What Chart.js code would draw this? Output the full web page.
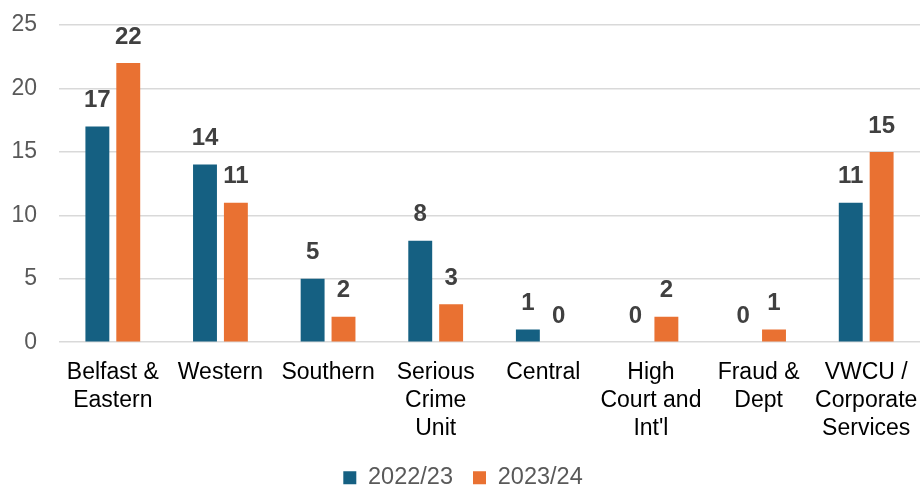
<!DOCTYPE html>
<html>
<head>
<meta charset="utf-8">
<script src="https://cdn.jsdelivr.net/npm/chart.js@4/dist/chart.umd.min.js"></script>
<style>
  html, body { margin: 0; padding: 0; background: #fff; }
  #wrap { width: 920px; height: 485px; }
</style>
</head>
<body>
<div id="wrap"><canvas id="chart"></canvas></div>
<script>
// categorias y valores
const categories = [
  ['Belfast &', 'Eastern'],
  'Western',
  'Southern',
  ['Serious', 'Crime', 'Unit'],
  'Central',
  ['High', 'Court and', "Int'l"],
  ['Fraud &', 'Dept'],
  ['VWCU /', 'Corporate', 'Services']
];
const values2022 = [17, 14, 5, 8, 1, 0, 0, 11];
const values2023 = [22, 11, 2, 3, 0, 2, 1, 15];
const yTicks = [0, 5, 10, 15, 20, 25];

const FONT = '"Liberation Sans", Arial, sans-serif';

// etiquetas sobre las barras
const barLabels = {
  id: 'barLabels',
  afterDatasetsDraw(chart) {
    const ctx = chart.ctx;
    ctx.save();
    ctx.font = 'bold 24px ' + FONT;
    ctx.fillStyle = '#404040';
    ctx.textAlign = 'center';
    ctx.textBaseline = 'middle';
    chart.data.datasets.forEach((ds, i) => {
      chart.getDatasetMeta(i).data.forEach((bar, j) => {
        ctx.fillText(String(ds.data[j]), bar.x, bar.y - 26);
      });
    });
    ctx.restore();
  }
};

document.addEventListener('DOMContentLoaded', function () {
  const ctx = document.getElementById('chart').getContext('2d');
  new Chart(ctx, {
    type: 'bar',
    data: {
      labels: categories,
      datasets: [{
        label: '2022/23',
        data: values2022,
        backgroundColor: '#156082',
        categoryPercentage: 0.574,
        barPercentage: 0.774
      }, {
        label: '2023/24',
        data: values2023,
        backgroundColor: '#E97132',
        categoryPercentage: 0.574,
        barPercentage: 0.774
      }]
    },
    options: {
      responsive: true,
      maintainAspectRatio: false,
      animation: false,
      layout: { padding: { top: 25, right: 0, left: 6, bottom: -14.5 } },
      plugins: {
        tooltip: { enabled: false },
        legend: {
          position: 'bottom',
          labels: {
            boxWidth: 13,
            boxHeight: 13,
            padding: 20,
            color: '#595959',
            font: { family: FONT, size: 23.5 }
          }
        }
      },
      scales: {
        x: {
          grid: { display: false, drawTicks: true, tickLength: 17 },
          border: { display: false },
          afterFit: (axis) => { axis.height += 4; },
          ticks: {
            color: '#000',
            maxRotation: 0,
            autoSkip: false,
            padding: 0,
            font: { family: FONT, size: 23, lineHeight: 1.2 }
          }
        },
        y: {
          min: 0,
          max: 25,
          afterBuildTicks: (axis) => { axis.ticks = yTicks.map(v => ({ value: v })); },
          afterFit: (axis) => { axis.width = 53; },
          grid: { color: '#d9d9d9', lineWidth: 1.5, drawTicks: true, tickLength: 22, tickColor: 'rgba(0,0,0,0)' },
          border: { display: false },
          ticks: {
            color: '#595959',
            padding: 0,
            font: { family: FONT, size: 23 }
          }
        }
      }
    },
    plugins: [barLabels]
  });
});
</script>
</body>
</html>
